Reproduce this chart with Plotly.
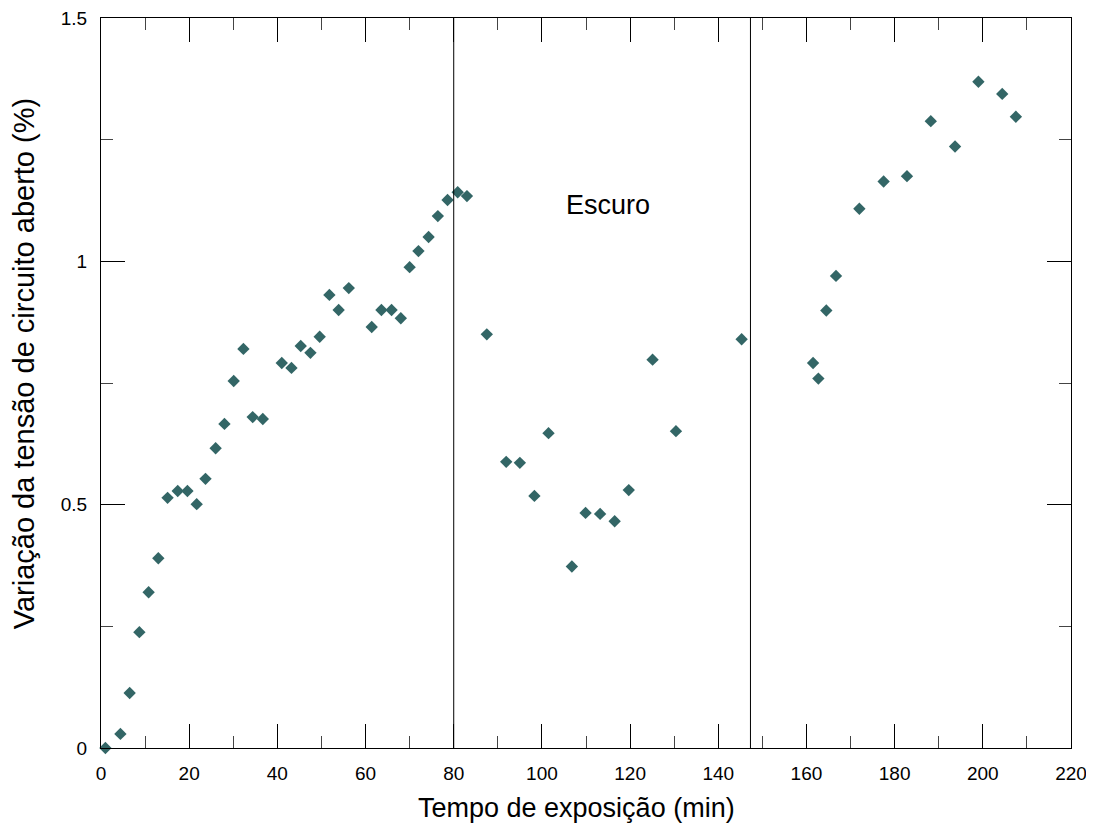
import plotly.graph_objects as go

# Exposure time (min)
tempo = [1.0, 4.4, 6.5, 8.7, 10.8, 13.0, 15.1, 17.4, 19.6, 21.7, 23.7, 26.0, 28.0, 30.1,
         32.3, 34.4, 36.7, 41.0, 43.2, 45.3, 47.5, 49.6, 51.8, 53.9, 56.2, 61.4, 63.6,
         65.9, 68.0, 70.0, 72.0, 74.3, 76.4, 78.6, 80.9, 83.0,
         87.5, 91.9, 95.0, 98.3, 101.5, 106.8, 109.9, 113.2, 116.5, 119.7, 125.1, 130.4, 145.3,
         161.5, 162.7, 164.5, 166.7, 172.0, 177.5, 182.8, 188.2, 193.7, 199.0, 204.4, 207.5]
# Open-circuit voltage variation (%)
variacao = [0.000, 0.029, 0.113, 0.238, 0.320, 0.390, 0.514, 0.528, 0.528, 0.501, 0.553,
            0.616, 0.666, 0.754, 0.820, 0.680, 0.676, 0.791, 0.781, 0.826, 0.812, 0.845,
            0.931, 0.900, 0.945, 0.865, 0.900, 0.900, 0.883, 0.988, 1.021, 1.050, 1.093,
            1.126, 1.142, 1.134,
            0.850, 0.588, 0.586, 0.518, 0.647, 0.373, 0.483, 0.481, 0.466, 0.530, 0.798,
            0.651, 0.840,
            0.791, 0.759, 0.899, 0.970, 1.108, 1.164, 1.175, 1.288, 1.236, 1.369, 1.344, 1.297]

# Limits of dark period
limites_escuro = [80.0, 147.3]
rotulo_escuro = "Escuro"
rotulo_pos = (115.1, 1.116)
titulo_x = "Tempo de exposição (min)"
titulo_y = "Variação da tensão de circuito aberto (%)"

FONT = "Liberation Sans, Arial, sans-serif"

fig = go.Figure()
fig.add_trace(go.Scatter(
    x=tempo, y=variacao, mode="markers",
    marker=dict(symbol="diamond", size=9.5, color="#336666", line=dict(width=0)),
    cliponaxis=False, showlegend=False,
))

for xv in limites_escuro:
    fig.add_shape(type="line", x0=xv, x1=xv, xref="x", y0=0, y1=1, yref="paper",
                  line=dict(color="black", width=1))

fig.add_annotation(x=rotulo_pos[0], y=rotulo_pos[1], text=rotulo_escuro, showarrow=False,
                   font=dict(size=27, color="black", family=FONT))

# axis titles as annotations for precise placement
fig.add_annotation(x=0.4897, y=-0.0822, xref="paper", yref="paper", text=titulo_x,
                   showarrow=False, xanchor="center", yanchor="middle",
                   font=dict(size=27, color="black", family=FONT))
fig.add_annotation(x=-0.0794, y=0.527, xref="paper", yref="paper", text=titulo_y,
                   showarrow=False, xanchor="center", yanchor="middle", textangle=-90,
                   font=dict(size=29, color="black", family=FONT))

axis_common = dict(
    showline=True, linecolor="black", linewidth=1, mirror="ticks",
    ticks="inside", ticklen=24, tickwidth=1, tickcolor="black",
    showgrid=False, zeroline=False, automargin=False,
    ticklabeloverflow="allow",
    tickfont=dict(size=19, color="black", family=FONT),
)

fig.update_xaxes(
    range=[0, 220], dtick=20, tick0=0,
    minor=dict(ticks="inside", ticklen=12, dtick=10, tickcolor="#444444", tickwidth=1, showgrid=False),
    ticklabelstandoff=8,
    **axis_common,
)
fig.update_yaxes(
    range=[0, 1.5], dtick=0.5, tick0=0,
    minor=dict(ticks="inside", ticklen=12, dtick=0.25, tickcolor="#444444", tickwidth=1, showgrid=False),
    ticklabelstandoff=9,
    **axis_common,
)

fig.update_layout(
    width=1086, height=820,
    margin=dict(l=93, r=23, t=10, b=80, autoexpand=False),
    plot_bgcolor="white", paper_bgcolor="white",
)

fig.write_html("out.html")
